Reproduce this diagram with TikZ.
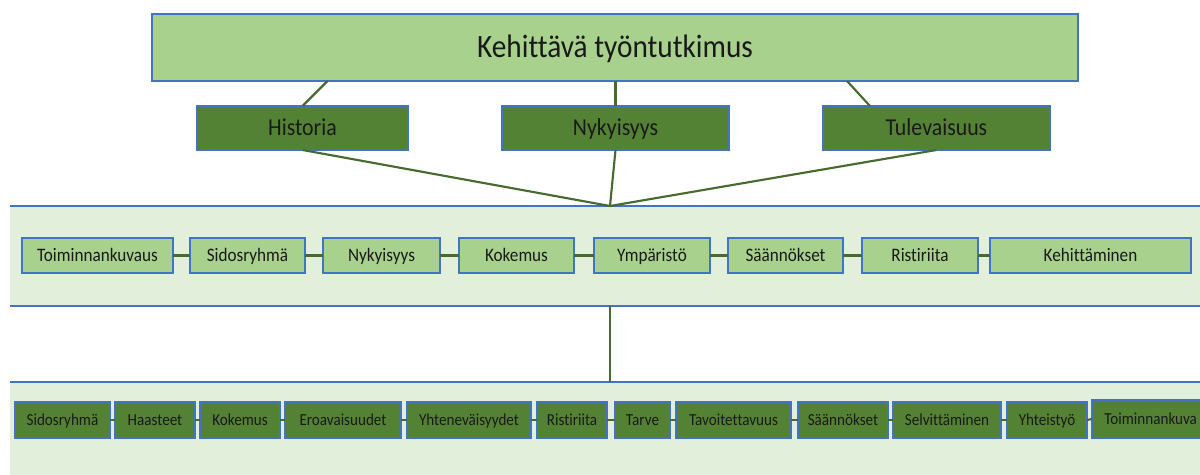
\documentclass[tikz,border=0pt]{standalone}
\usepackage{fontspec}
\setmainfont{Carlito}[FakeStretch=0.9, Ligatures=NoCommon]
\usetikzlibrary{calc}

\definecolor{leaf}{HTML}{A9D18E}
\definecolor{moss}{HTML}{548235}
\definecolor{bandfill}{HTML}{E2EFDA}
\definecolor{edgeblue}{HTML}{4472C4}
\definecolor{linkgreen}{HTML}{476B2E}

% box from x1..x2, y1..y2 (pixel units), centred text
\newcommand\mkbox[7]{%
  \node[#1, minimum width={(#4-#3)*0.75pt}, minimum height={(#6-#5)*0.75pt}]
    (#2) at ({(#3+#4)/2},{(#5+#6)/2}) {#7};}

\begin{document}
\begin{tikzpicture}[x=0.75pt,y=-0.75pt,
  every node/.style={inner sep=0pt, outer sep=0pt, text=black!90},
  % fixed text boxes so capitals sit in the middle of each box
  size title/.style={font=\fontsize{24.4pt}{28pt}\selectfont, text height=17.57pt, text depth=2.93pt},
  size era/.style={font=\fontsize{18.2pt}{21pt}\selectfont, text height=13.10pt, text depth=2.18pt},
  size theme/.style={font=\fontsize{14.3pt}{17pt}\selectfont, text height=10.30pt, text depth=1.72pt},
  size factor/.style={font=\fontsize{12.6pt}{15pt}\selectfont, text height=9.07pt, text depth=1.51pt},
  boxbase/.style={draw=edgeblue, line width=0.9pt},
  lightbox/.style={boxbase, fill=leaf},
  darkbox/.style={boxbase, fill=moss},
  titlebox/.style={lightbox, size title},
  erabox/.style={darkbox, size era},
  themebox/.style={lightbox, size theme},
  factorbox/.style={darkbox, size factor},
  link/.style={draw=linkgreen, line width=1.6pt},
  bandedge/.style={draw=edgeblue, line width=1.2pt},
  band/.style={fill=bandfill, draw=none}]
\useasboundingbox (0,0) rectangle (1200,475);

% background bands
\mkbox{band}{bandA}{10}{1200}{206}{306}{}
\mkbox{band}{bandB}{10}{1200}{382}{475}{}
\draw[bandedge] (bandA.north west) -- (bandA.north east);
\draw[bandedge] (bandA.south west) -- (bandA.south east);
\draw[bandedge] (bandB.north west) -- (bandB.north east);

\coordinate (hub) at (610,206);

% title and time perspectives
\mkbox{titlebox}{top}{152}{1078}{14}{81}{Kehittävä työntutkimus}
\mkbox{erabox}{hist}{197}{408}{106}{150}{Historia}
\mkbox{erabox}{nyk}{502}{729}{106}{150}{Nykyisyys}
\mkbox{erabox}{tul}{823}{1050}{106}{150}{Tulevaisuus}

\draw[link] ($(hist.north |- top.south)+(25,0)$) -- (hist.north);
\draw[link] (nyk.north |- top.south) -- (nyk.north);
\draw[link] ($(tul.north west |- top.south)+(24,0)$) -- ($(tul.north west)+(47,0)$);

\draw[link] (hist.south) -- (hub);
\draw[link] (nyk.south) -- (hub);
\draw[link] (tul.south) -- (hub);

% themes
\mkbox{themebox}{a1}{22}{173}{238}{273}{Toiminnankuvaus}
\mkbox{themebox}{a2}{190}{305}{238}{273}{Sidosryhmä}
\mkbox{themebox}{a3}{323}{440}{238}{273}{Nykyisyys}
\mkbox{themebox}{a4}{459}{574}{238}{273}{Kokemus}
\mkbox{themebox}{a5}{594}{710}{238}{273}{Ympäristö}
\mkbox{themebox}{a6}{728}{843}{238}{273}{Säännökset}
\mkbox{themebox}{a7}{862}{978}{238}{273}{Ristiriita}
\mkbox{themebox}{a8}{990}{1191}{238}{273}{Kehittäminen}
\foreach \i [evaluate=\i as \j using int(\i+1)] in {1,...,7}
  \draw[link] (a\i.east) -- (a\j.west);

\draw[link] (bandA.south -| hub) -- (bandB.north -| hub);

% factors
\mkbox{factorbox}{b1}{15}{110}{402}{438}{Sidosryhmä}
\mkbox{factorbox}{b2}{115}{195}{402}{438}{Haasteet}
\mkbox{factorbox}{b3}{200}{280}{402}{438}{Kokemus}
\mkbox{factorbox}{b4}{285}{401}{402}{438}{Eroavaisuudet}
\mkbox{factorbox}{b5}{407}{531}{402}{438}{Yhteneväisyydet}
\mkbox{factorbox}{b6}{537}{607}{402}{438}{Ristiriita}
\mkbox{factorbox}{b7}{615}{670}{402}{438}{Tarve}
\mkbox{factorbox}{b8}{676}{791}{402}{438}{Tavoitettavuus}
\mkbox{factorbox}{b9}{798}{888}{402}{438}{Säännökset}
\mkbox{factorbox}{b10}{893}{1001}{402}{438}{Selvittäminen}
\mkbox{factorbox}{b11}{1007}{1087}{402}{438}{Yhteistyö}
\mkbox{factorbox}{b12}{1092}{1203}{400}{438}{}
\node[size factor, anchor=east] (b12label) at (1197,419) {Toiminnankuva};
\foreach \i [evaluate=\i as \j using int(\i+1)] in {1,...,11}
  \draw[link] (b\i.east) -- (b\j.west);
\end{tikzpicture}
\end{document}
